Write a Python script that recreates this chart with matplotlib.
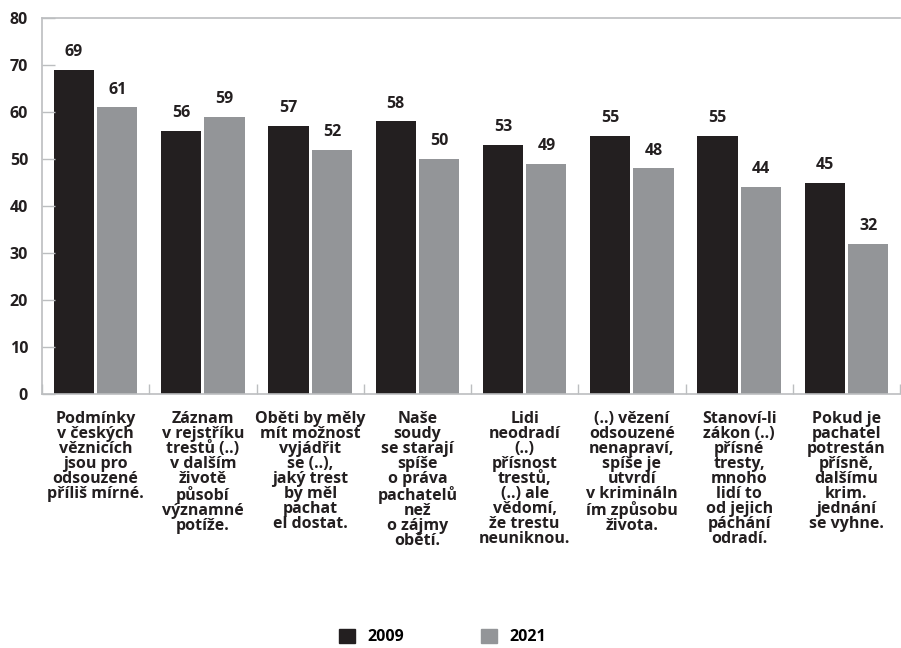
import numpy as np
import matplotlib.pyplot as plt
from matplotlib.patches import Patch

categories = [
    "Podmínky\nv českých\nvěznicích\njsou pro\nodsouzené\npříliš mírné.",
    "Záznam\nv rejstříku\ntrestů (..)\nv dalším\nživotě\npůsobí\nvýznamné\npotíže.",
    "Oběti by měly\nmít možnost\nvyjádřit\nse (..),\njaký trest\nby měl\npachat\nel dostat.",
    "Naše\nsoudy\nse starají\nspíše\no práva\npachatelů\nnež\no zájmy\nobětí.",
    "Lidi\nneodradí\n(..)\npřísnost\ntrestů,\n(..) ale\nvědomí,\nže trestu\nneuniknou.",
    "(..) vězení\nodsouzené\nnenapraví,\nspíše je\nutvrdí\nv krimináln\ním způsobu\nživota.",
    "Stanoví-li\nzákon (..)\npřísné\ntresty,\nmnoho\nlidí to\nod jejich\npáchání\nodradí.",
    "Pokud je\npachatel\npotrestán\npřísně,\ndalšímu\nkrim.\njednání\nse vyhne.",
]
values_2009 = [69, 56, 57, 58, 53, 55, 55, 45]
values_2021 = [61, 59, 52, 50, 49, 48, 44, 32]
series_names = ["2009", "2021"]
y_ticks = [0, 10, 20, 30, 40, 50, 60, 70, 80]

dark = "#231f20"
grey = "#939598"
axis_col = "#bcbec0"
fs = 11.5

plt.rcParams["font.family"] = ["Open Sans", "DejaVu Sans"]
plt.rcParams["font.weight"] = "bold"

fig = plt.figure(figsize=(9.01, 6.48), dpi=100)
ax = fig.add_axes([42 / 901, 1 - 394 / 648, 858 / 901, 376 / 648])

x = np.arange(len(categories))
w = 0.375
gap = 0.015
b1 = ax.bar(x - w / 2 - gap, values_2009, w, color=dark, label=series_names[0])
b2 = ax.bar(x + w / 2 + gap, values_2021, w, color=grey, label=series_names[1])

for bars in (b1, b2):
    for r in bars:
        ax.annotate(f"{r.get_height():.0f}", (r.get_x() + r.get_width() / 2, r.get_height()),
                    xytext=(0, 7), textcoords="offset points", ha="center", va="bottom",
                    fontsize=fs, fontweight="bold", color=dark)

ax.set_xlim(-0.5, len(categories) - 0.5)
ax.set_ylim(0, 80)
ax.set_yticks(y_ticks)
ax.set_yticklabels([str(t) for t in y_ticks], fontsize=fs, fontweight="bold", color=dark)
ax.tick_params(axis="y", direction="in", length=9, width=1, color=axis_col, pad=10)

# category separators as ticks on the x axis
ax.set_xticks(np.arange(len(categories) + 1) - 0.5)
ax.set_xticklabels([])
ax.tick_params(axis="x", direction="in", length=7, width=1, color=axis_col)
for i, lab in enumerate(categories):
    ax.text(i, -3.6, lab, ha="center", va="top", fontsize=fs, fontweight="bold",
            color=dark, linespacing=0.92)

for s in ["left", "bottom", "top"]:
    ax.spines[s].set_color(axis_col)
    ax.spines[s].set_linewidth(1.2)
ax.spines["right"].set_visible(False)

fig.legend(handles=[Patch(color=dark, label=series_names[0]), Patch(color=grey, label=series_names[1])],
           loc="center", bbox_to_anchor=(0.491, 1 - 637 / 648), ncol=2, frameon=False,
           handlelength=1.0, handleheight=1.0, columnspacing=4.8, handletextpad=0.8,
           prop={"weight": "bold", "size": fs})

fig.savefig("out.png", dpi=100)
